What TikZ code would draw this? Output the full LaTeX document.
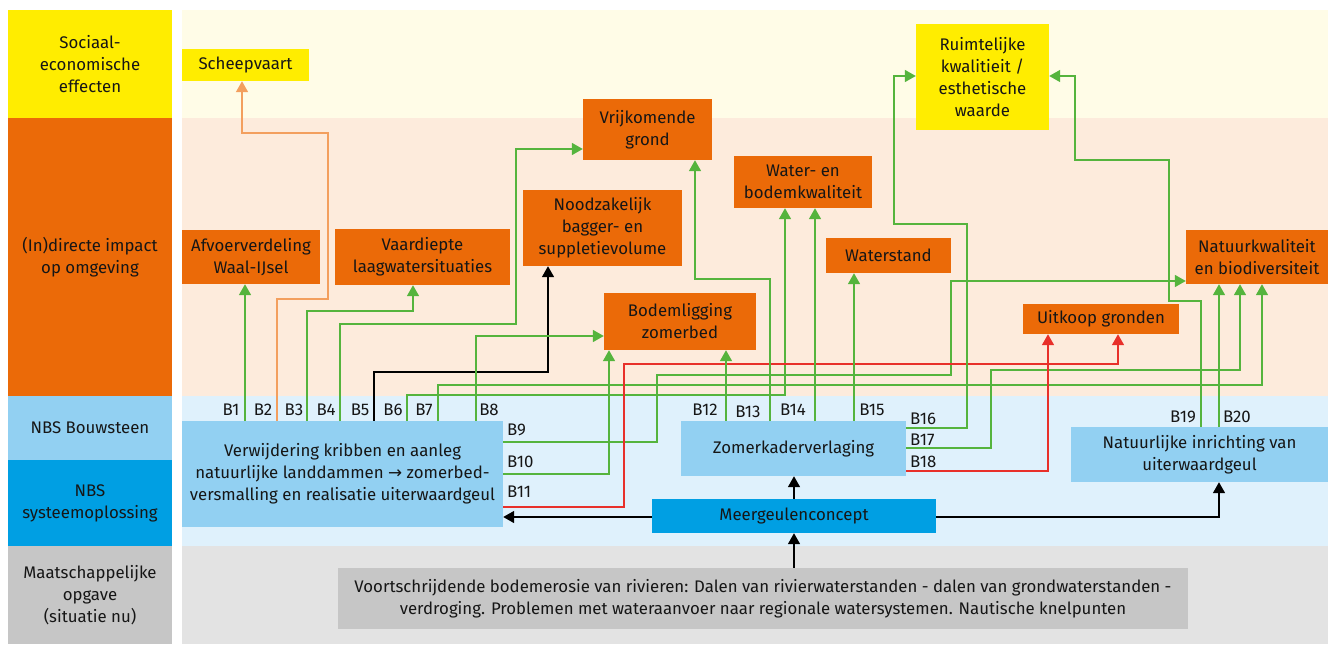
\documentclass[tikz,border=0pt]{standalone}
\usepackage{fontspec}
\setmainfont{Fira Sans}
\newfontfamily\symfont{DejaVu Sans}
\usetikzlibrary{arrows.meta}

\definecolor{ink}{HTML}{161616}
\definecolor{rgYellow}{HTML}{FFED00}
\definecolor{rgOrange}{HTML}{EB6A08}
\definecolor{rgLightBlue}{HTML}{92D0F2}
\definecolor{rgBlue}{HTML}{009FE3}
\definecolor{rgGray}{HTML}{C6C6C6}
\definecolor{bgYellow}{HTML}{FFFCE7}
\definecolor{bgOrange}{HTML}{FDEBDC}
\definecolor{bgBlue}{HTML}{DFF1FC}
\definecolor{bgGray}{HTML}{E3E3E3}
\definecolor{lnGreen}{HTML}{55B43D}
\definecolor{lnOrange}{HTML}{F39F5E}
\definecolor{lnRed}{HTML}{E8302A}

% box placed by its corners: name, x1, y1, x2, y2, colour, text
\newcommand\placebox[7]{%
  \node[fill=#6, minimum width={(#4-#2)*1pt}, minimum height={(#5-#3)*1pt}]
    (#1) at ({(#2+#4)/2},{(#3+#5)/2}) {#7};}

\begin{document}
\begin{tikzpicture}[x=1pt,y=-1pt,
  every node/.style={font=\fontsize{16.8}{22}\selectfont, text=ink, align=center, inner sep=0pt},
  conn/.style={line width=1.6pt, -{Triangle[width=12pt,length=11pt]}},
  gline/.style={conn, draw=lnGreen},
  oline/.style={conn, draw=lnOrange},
  rline/.style={conn, draw=lnRed},
  kline/.style={conn, draw=black}]
\useasboundingbox (0,0) rectangle (1328,645);
\fill[white] (0,0) rectangle (1328,645);

% row headers
\fill[rgYellow]    (8,10)  rectangle (172,118);
\fill[rgOrange]    (8,118) rectangle (172,396);
\fill[rgLightBlue] (8,396) rectangle (172,460);
\fill[rgBlue]      (8,460) rectangle (172,546);
\fill[rgGray]      (8,546) rectangle (172,644);
% row backgrounds
\fill[bgYellow] (182,10)  rectangle (1328,118);
\fill[bgOrange] (182,118) rectangle (1328,396);
\fill[bgBlue]   (182,396) rectangle (1328,546);
\fill[bgGray]   (182,546) rectangle (1328,644);

\node (h1) at (90,64)  {Sociaal-\\economische\\effecten};
\node (h2) at (90,257) {(In)directe impact\\op omgeving};
\node (h3) at (90,428) {NBS Bouwsteen};
\node (h4) at (90,503) {NBS\\systeemoplossing};
\node (h5) at (90,595) {Maatschappelijke\\opgave\\(situatie nu)};

% effects and impacts
\placebox{scheep}{182}{49}{309}{81}{rgYellow}{Scheepvaart}
\placebox{ruimte}{916}{24}{1049}{130}{rgYellow}{Ruimtelijke\\kwalitieit /\\esthetische\\waarde}
\placebox{afvoer}{182}{230}{320}{284}{rgOrange}{Afvoerverdeling\\Waal-IJsel}
\placebox{vaard}{335}{229}{510}{285}{rgOrange}{Vaardiepte\\laagwatersituaties}
\placebox{nood}{523}{190}{682}{266}{rgOrange}{Noodzakelijk\\bagger- en\\suppletievolume}
\placebox{vrij}{583}{99}{712}{160}{rgOrange}{Vrijkomende\\grond}
\placebox{water}{734}{156}{872}{208}{rgOrange}{Water- en\\bodemkwaliteit}
\placebox{wstand}{826}{238}{951}{273}{rgOrange}{Waterstand}
\placebox{bodem}{604}{293}{756}{350}{rgOrange}{Bodemligging\\zomerbed}
\placebox{natuur}{1186}{230}{1328}{284}{rgOrange}{Natuurkwaliteit\\en biodiversiteit}
\placebox{uitkoop}{1023}{304}{1179}{334}{rgOrange}{Uitkoop gronden}

% building blocks and system solution
\placebox{verw}{182}{421}{503}{527}{rgLightBlue}{Verwijdering kribben en aanleg\\natuurlijke landdammen {\symfont →} zomerbed-\\versmalling en realisatie uiterwaardgeul}
\placebox{zomer}{681}{421}{906}{476}{rgLightBlue}{Zomerkaderverlaging}
\placebox{natinr}{1071}{427}{1328}{482}{rgLightBlue}{Natuurlijke inrichting van\\uiterwaardgeul}
\placebox{meer}{652}{499}{936}{533}{rgBlue}{Meergeulenconcept}
\placebox{opgave}{338}{568}{1188}{629}{rgGray}{Voortschrijdende bodemerosie van rivieren: Dalen van rivierwaterstanden - dalen van grondwaterstanden -\\verdroging. Problemen met wateraanvoer naar regionale watersystemen. Nautische knelpunten}

% building block labels
\node (lb1) at (231,410) {B1};
\node (lb2) at (263,410) {B2};
\node (lb3) at (294,410) {B3};
\node (lb4) at (326,410) {B4};
\node (lb5) at (360,410) {B5};
\node (lb6) at (393,410) {B6};
\node (lb7) at (424,410) {B7};
\node (lb8) at (489,410) {B8};
\node[anchor=west] (lb9)  at (507,430) {B9};
\node[anchor=west] (lb10) at (507,462) {B10};
\node[anchor=west] (lb11) at (507,492) {B11};
\node (lb12) at (705,410) {B12};
\node (lb13) at (748,412) {B13};
\node (lb14) at (793,410) {B14};
\node (lb15) at (872,410) {B15};
\node[anchor=west] (lb16) at (910,419) {B16};
\node[anchor=west] (lb17) at (910,440) {B17};
\node[anchor=west] (lb18) at (910,462) {B18};
\node (lb19) at (1183,417) {B19};
\node (lb20) at (1237,417) {B20};

% connectors from Verwijdering kribben ...
\draw[gline] (245,0 |- verw.north) -- (245,0 |- afvoer.south);
\draw[oline] (277,0 |- verw.north) |- (328,299) |- (242,133) -- (242,0 |- scheep.south);
\draw[gline] (307,0 |- verw.north) |- (413,311) -- (413,0 |- vaard.south);
\draw[gline] (340,0 |- verw.north) |- (516,324) |- (0,149 -| vrij.west);
\draw[kline] (374,0 |- verw.north) |- (548,372) -- (548,0 |- nood.south);
\draw[gline] (407,0 |- verw.north) |- (785,395) -- (785,0 |- water.south);
\draw[gline] (438,0 |- verw.north) |- (1262,385) -- (1262,0 |- natuur.south);
\draw[gline] (476,0 |- verw.north) |- (0,336 -| bodem.west);
\draw[gline] (0,442 -| verw.east) -| (657,375) -| (951,281) -- (0,281 -| natuur.west);
\draw[gline] (0,474 -| verw.east) -| (609,0 |- bodem.south);
\draw[rline] (0,507 -| verw.east) -| (624,364) -| (1118,0 |- uitkoop.south);

% connectors from Zomerkaderverlaging
\draw[gline] (726,0 |- zomer.north) -- (726,0 |- bodem.south);
\draw[gline] (770,0 |- zomer.north) |- (695,279) -- (695,0 |- vrij.south);
\draw[gline] (815,0 |- zomer.north) -- (815,0 |- water.south);
\draw[gline] (854,0 |- zomer.north) -- (854,0 |- wstand.south);
\draw[gline] (0,428 -| zomer.east) -| (967,224) -| (894,76) -- (0,76 -| ruimte.west);
\draw[gline] (0,448 -| zomer.east) -| (991,370) -| (1240,0 |- natuur.south);
\draw[rline] (0,471 -| zomer.east) -| (1048,0 |- uitkoop.south);

% connectors from Natuurlijke inrichting
\draw[gline] (1201,0 |- natinr.north) |- (1169,301) |- (1075,160) |- (0,76 -| ruimte.east);
\draw[gline] (1219,0 |- natinr.north) -- (1219,0 |- natuur.south);

% system solution links
\draw[kline] (794,0 |- opgave.north) -- (794,0 |- meer.south);
\draw[kline] (794,0 |- meer.north) -- (794,0 |- zomer.south);
\draw[kline] (0,517 -| meer.west) -- (0,517 -| verw.east);
\draw[kline] (0,517 -| meer.east) -| (1219,0 |- natinr.south);
\end{tikzpicture}
\end{document}
